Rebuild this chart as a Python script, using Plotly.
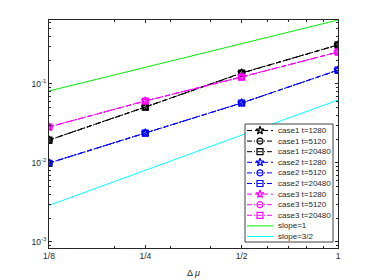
import plotly.graph_objects as go

# ---------------- data ----------------
dmu = [1/8, 1/4, 1/2, 1]
xtick_vals = [1/8, 1/4, 1/2, 1]
xtick_text = ['1/8', '1/4', '1/2', '1']
ytick_vals = [1e-3, 1e-2, 1e-1]
ytick_text = ['10<sup>-3</sup>', '10<sup>-2</sup>', '10<sup>-1</sup>']

case1_t1280 = [0.0195, 0.0511, 0.138, 0.312]
case1_t5120 = [0.0195, 0.0510, 0.137, 0.311]
case1_t20480 = [0.0194, 0.0509, 0.137, 0.313]
case2_t1280 = [0.0100, 0.0240, 0.0575, 0.150]
case2_t5120 = [0.0100, 0.0239, 0.0574, 0.149]
case2_t20480 = [0.0099, 0.0239, 0.0574, 0.150]
case3_t1280 = [0.0286, 0.0610, 0.123, 0.254]
case3_t5120 = [0.0286, 0.0609, 0.123, 0.253]
case3_t20480 = [0.0285, 0.0609, 0.122, 0.254]

slope_x = [1/8, 1]
slope1 = [0.0815, 0.645]
slope32 = [0.0029, 0.0626]

names = ['case1 t=1280', 'case1 t=5120', 'case1 t=20480',
         'case2 t=1280', 'case2 t=5120', 'case2 t=20480',
         'case3 t=1280', 'case3 t=5120', 'case3 t=20480']
series = [case1_t1280, case1_t5120, case1_t20480,
          case2_t1280, case2_t5120, case2_t20480,
          case3_t1280, case3_t5120, case3_t20480]

# ---------------- styles ----------------
case_colors = ['#000000', '#0000ff', '#ff00ff']
dashes = ['5px,3px', '5px,2px,1px,2px', '5px,2px,1px,2px']
symbols = ['star-open', 'circle-open', 'square-open']
slope_names = ['slope=1', 'slope=3/2']
slope_colors = ['#00ee00', '#00ffff']
axis_col = '#262626'
FONT = 'Liberation Sans, Arial, sans-serif'

fig = go.Figure()
for i, (nm, ys) in enumerate(zip(names, series)):
    c = case_colors[i // 3]
    fig.add_trace(go.Scatter(
        x=dmu, y=ys, mode='lines+markers', name=nm, showlegend=False,
        line=dict(color=c, width=1, dash=dashes[i % 3]),
        marker=dict(symbol=symbols[i % 3], size=6, color=c, line=dict(color=c, width=1.2))))
for nm, ys, c in zip(slope_names, [slope1, slope32], slope_colors):
    fig.add_trace(go.Scatter(x=slope_x, y=ys, mode='lines', name=nm, showlegend=False,
                             line=dict(color=c, width=1)))

# ---------------- custom legend (overlay axes in plot-area pixel units) ----------------
W, H = 289, 228
bx0, bx1, by0, by1 = 196, 284, 104, 222
fig.add_trace(go.Scatter(x=[bx0, bx1, bx1, bx0, bx0], y=[by0, by0, by1, by1, by0],
                         mode='lines', fill='toself', fillcolor='white',
                         line=dict(color='#404040', width=1), xaxis='x2', yaxis='y2',
                         showlegend=False, hoverinfo='skip'))
row0, rowh = 110.5, 10.6
lx0, lx1, lm, tx = 198, 224, 211, 227
all_names = names + slope_names
for i, nm in enumerate(all_names):
    yy = row0 + rowh * i
    if i < 9:
        c = case_colors[i // 3]
        fig.add_trace(go.Scatter(x=[lx0, lx1], y=[yy, yy], mode='lines', xaxis='x2', yaxis='y2',
                                 line=dict(color=c, width=1, dash=dashes[i % 3]),
                                 showlegend=False, hoverinfo='skip'))
        fig.add_trace(go.Scatter(x=[lm], y=[yy], mode='markers', xaxis='x2', yaxis='y2',
                                 marker=dict(symbol=symbols[i % 3], size=6, color=c,
                                             line=dict(color=c, width=1.2)),
                                 showlegend=False, hoverinfo='skip'))
    else:
        c = slope_colors[i - 9]
        fig.add_trace(go.Scatter(x=[lx0, lx1], y=[yy, yy], mode='lines', xaxis='x2', yaxis='y2',
                                 line=dict(color=c, width=1), showlegend=False, hoverinfo='skip'))
    fig.add_annotation(x=tx, y=yy, xref='x2', yref='y2', text=nm, showarrow=False,
                       xanchor='left', yanchor='middle', font=dict(size=8, color=axis_col, family=FONT))

fig.add_annotation(x=0.5, y=-0.11, xref='paper', yref='paper', text='Δ <i>μ</i>', showarrow=False,
                   xanchor='center', yanchor='middle', font=dict(size=9, color=axis_col, family=FONT))

y_minor = [k * 10.0 ** e for e in (-4, -3, -2, -1) for k in range(2, 10)]
x_minor = [0.2, 0.3, 0.4, 0.6, 0.7, 0.8, 0.9]

fig.update_layout(
    width=374, height=280,
    margin=dict(l=49, r=36, t=20, b=32, pad=0),
    paper_bgcolor='white', plot_bgcolor='white',
    font=dict(family=FONT, size=8.5, color=axis_col),
    showlegend=False,
    xaxis=dict(type='log', range=[-0.90309, 0], tickmode='array', tickvals=xtick_vals,
               ticktext=xtick_text, ticks='inside', ticklen=3, tickcolor=axis_col,
               showline=True, linecolor=axis_col, linewidth=1, mirror='ticks',
               showgrid=False, zeroline=False,
               minor=dict(tickmode='array', tickvals=x_minor, ticks='inside', ticklen=2,
                          tickcolor=axis_col, showgrid=False)),
    yaxis=dict(type='log', range=[-3.077, -0.19], tickmode='array', tickvals=ytick_vals,
               ticktext=ytick_text, ticks='inside', ticklen=3, tickcolor=axis_col,
               showline=True, linecolor=axis_col, linewidth=1, mirror='ticks',
               showgrid=False, zeroline=False,
               minor=dict(tickmode='array', tickvals=y_minor, ticks='inside', ticklen=2,
                          tickcolor=axis_col, showgrid=False)),
    xaxis2=dict(overlaying='x', range=[0, W], visible=False, fixedrange=True),
    yaxis2=dict(overlaying='y', range=[H, 0], visible=False, fixedrange=True),
)

fig.write_html('out.html', config={'displayModeBar': False},
               post_script="document.body.style.margin='0';document.body.style.padding='0';")
